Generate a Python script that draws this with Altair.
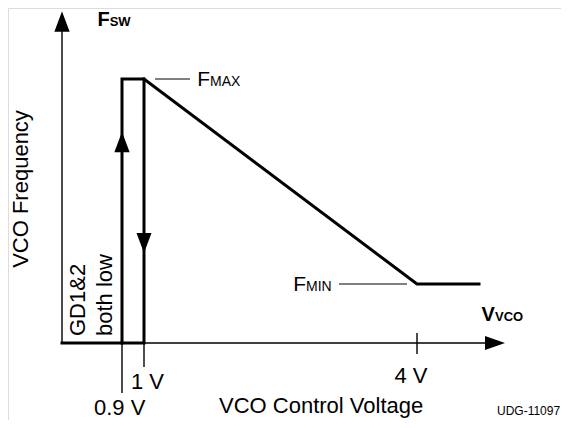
import altair as alt
import pandas as pd

# Diagram units: x = pixels right of the axis origin, y = pixels above the V axis.
# Thick VCO characteristic (hysteresis loop + ramp)
path_a_x = [0, 60, 60, 82, 355, 417]
path_a_y = [0, 0, 264, 264, 59, 59]
path_b_x = [60, 82, 82]
path_b_y = [0, 0, 264]

# Axis lines and ticks
axis_x1 = [0, 0, 355, 60, 82]
axis_y1 = [0, 0, 10, 0, 0]
axis_x2 = [0, 423, 355, 60, 82]
axis_y2 = [312, 0, -11, -50, -24]

# Leader lines for F_MAX and F_MIN
lead_x1 = [93, 277]
lead_x2 = [128, 345]
lead_y = [264, 59]

# Arrow heads
up_x, up_y = [0, 60], [321.5, 201]
down_x, down_y = [82], [100]
right_x, right_y = [433], [0]

# Texts
lab_text = ["VCO Control Voltage", "4 V", "1 V", "0.9 V"]
lab_x = [157, 332.5, 69, 32]
lab_y = [-70, -40, -46, -72]
rot_text = ["VCO Frequency", "GD1&2", "both low"]
rot_x = [-34, 23, 50]
rot_y = [154, 7, 7]
bold_text = ["F", "V"]
bold_x = [35.5, 419.6]
bold_y = [317, 22]
boldsub_text = ["SW", "VCO"]
boldsub_x = [47.7, 433]
boldsub_y = [317, 22]
reg_text = ["F", "F"]
reg_x = [135.3, 231.3]
reg_y = [257, 52]
sub_text = ["MAX", "MIN"]
sub_x = [148, 244]
sub_y = [257, 52]
note_text = ["UDG-11097"]
note_x = [435]
note_y = [-72]

FONT = "Arial, Liberation Sans, Helvetica, sans-serif"
xs = alt.Scale(domain=[-54, 499], nice=False, zero=False)
ys = alt.Scale(domain=[-77, 335], nice=False, zero=False)


def X(f="x"):
    return alt.X(f + ":Q", scale=xs, axis=None)


def Y(f="y"):
    return alt.Y(f + ":Q", scale=ys, axis=None)


paths = pd.DataFrame({
    "x": path_a_x + path_b_x,
    "y": path_a_y + path_b_y,
    "p": ["a"] * len(path_a_x) + ["b"] * len(path_b_x),
    "i": list(range(len(path_a_x))) + list(range(len(path_b_x))),
})
thick = alt.Chart(paths).mark_line(color="black", strokeWidth=3, strokeJoin="miter", strokeCap="square").encode(
    x=X(), y=Y(), detail="p:N", order="i:Q")

axes = pd.DataFrame({"x": axis_x1, "y": axis_y1, "x2": axis_x2, "y2": axis_y2})
axis_lines = alt.Chart(axes).mark_rule(color="black", strokeWidth=1.4).encode(
    x=X(), y=Y(), x2="x2:Q", y2="y2:Q")

leads = pd.DataFrame({"x": lead_x1, "x2": lead_x2, "y": lead_y})
lead_lines = alt.Chart(leads).mark_rule(color="black", strokeWidth=1).encode(
    x=X(), y=Y(), x2="x2:Q")

up = alt.Chart(pd.DataFrame({"x": up_x, "y": up_y})).mark_point(
    shape="M0,-1L0.75,1L-0.75,1Z", filled=True, color="black", size=420, opacity=1, strokeWidth=0
).encode(x=X(), y=Y())
down = alt.Chart(pd.DataFrame({"x": down_x, "y": down_y})).mark_point(
    shape="M0,1L0.75,-1L-0.75,-1Z", filled=True, color="black", size=400, opacity=1, strokeWidth=0
).encode(x=X(), y=Y())
right = alt.Chart(pd.DataFrame({"x": right_x, "y": right_y})).mark_point(
    shape="M1,0L-1,0.7L-1,-0.7Z", filled=True, color="black", size=400, opacity=1, strokeWidth=0
).encode(x=X(), y=Y())


def texts(t, x, y, **kw):
    df = pd.DataFrame({"t": t, "x": x, "y": y})
    return alt.Chart(df).mark_text(font=FONT, color="black", baseline="alphabetic", **kw).encode(
        x=X(), y=Y(), text="t:N")


labels = texts(lab_text, lab_x, lab_y, align="left", fontSize=22)
rot1 = texts(rot_text[:1], rot_x[:1], rot_y[:1], align="center", angle=270, fontSize=22)
rot2 = texts(rot_text[1:], rot_x[1:], rot_y[1:], align="left", angle=270, fontSize=22)
bold = texts(bold_text, bold_x, bold_y, align="left", fontSize=20, fontWeight="bold")
boldsub = texts(boldsub_text, boldsub_x, boldsub_y, align="left", fontSize=13, fontWeight="bold")
reg = texts(reg_text, reg_x, reg_y, align="left", fontSize=21)
sub = texts(sub_text, sub_x, sub_y, align="left", fontSize=14)
note = texts(note_text, note_x, note_y, align="left", fontSize=12)

chart = alt.layer(
    axis_lines, lead_lines, thick, up, down, right,
    labels, rot1, rot2, bold, boldsub, reg, sub, note
).properties(
    width=553, height=412, autosize=alt.AutoSizeParams(type="none"), padding=0
).configure_view(stroke=None).configure(background="white")

chart.save("out.html", embed_options={"renderer": "svg", "actions": False})
